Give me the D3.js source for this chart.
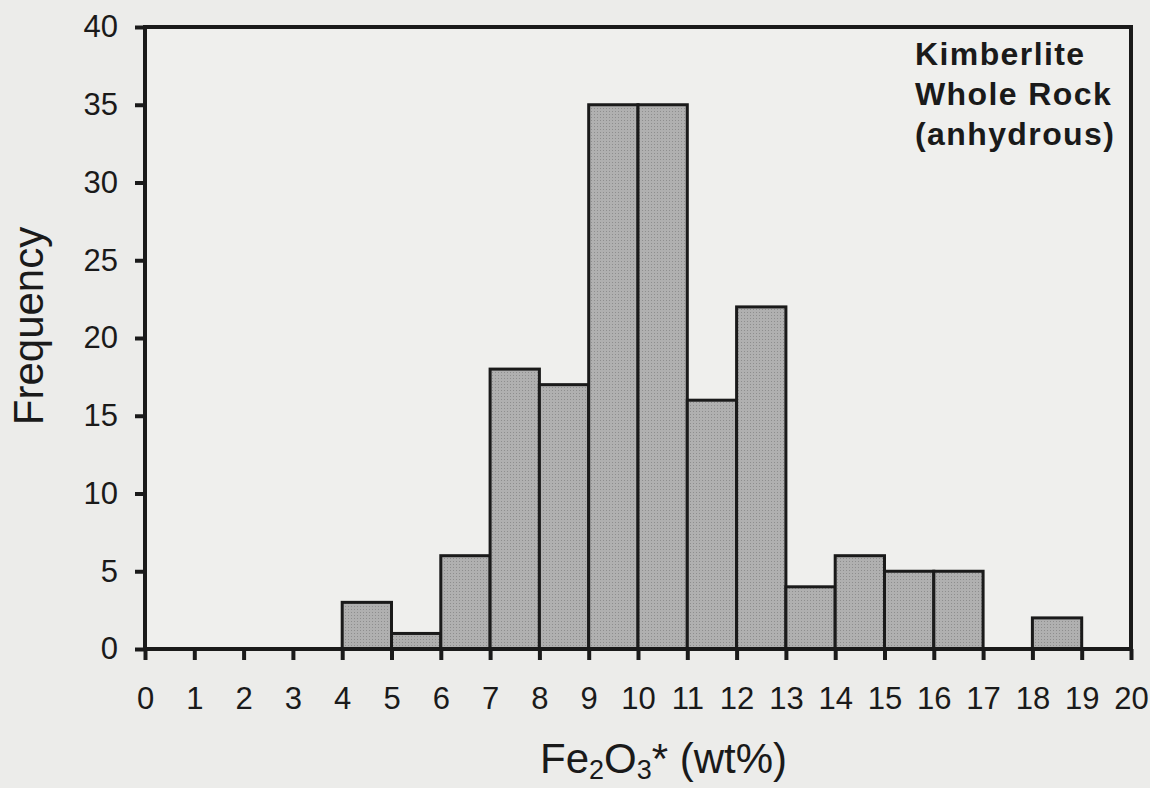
<!DOCTYPE html>
<html><head><meta charset="utf-8">
<script src="https://cdn.jsdelivr.net/npm/d3@7"></script>
<style>
html,body{margin:0;padding:0;background:#ececea;}
svg{display:block;}
text{font-family:"Liberation Sans",Arial,Helvetica,sans-serif;fill:#1a1a1a;}
</style></head><body>
<svg id="c" width="1150" height="788"></svg>
<script>
const binStarts = [4,5,6,7,8,9,10,11,12,13,14,15,16,17,18];
const binWidth = 1;
const frequencies = [3,1,6,18,17,35,35,16,22,4,6,5,5,0,2];
const xTicks = d3.range(0,21,1);
const yTicks = [0,5,10,15,20,25,30,35,40];
const annotation = ["Kimberlite","Whole Rock","(anhydrous)"];

const svg = d3.select("#c");
const L=145, R=1131, T=27, B=649;
const x = d3.scaleLinear().domain([0,20]).range([L,R]);
const y = d3.scaleLinear().domain([0,40]).range([B,T]);

svg.append("rect").attr("width",1150).attr("height",788).attr("fill","#ececea");
svg.append("rect").attr("x",L).attr("y",T).attr("width",R-L).attr("height",B-T).attr("fill","#efefed");

const defs = svg.append("defs");
const pat = defs.append("pattern").attr("id","dots").attr("width",3).attr("height",3).attr("patternUnits","userSpaceOnUse");
pat.append("rect").attr("width",3).attr("height",3).attr("fill","#b0b0b0");
pat.append("rect").attr("width",1).attr("height",1).attr("fill","#8e8e8e");

const data = binStarts.map((s,i)=>({x0:s,x1:s+binWidth,v:frequencies[i]})).filter(d=>d.v>0);
svg.append("g").selectAll("rect").data(data).join("rect")
  .attr("x",d=>x(d.x0)).attr("y",d=>y(d.v))
  .attr("width",d=>x(d.x1)-x(d.x0)).attr("height",d=>y(0)-y(d.v))
  .attr("fill","url(#dots)").attr("stroke","#1a1a1a").attr("stroke-width",3);

const xAxis = d3.axisBottom(x).tickValues(xTicks).tickSize(11).tickPadding(27).tickFormat(d3.format("d"));
const gx = svg.append("g").attr("transform",`translate(0,${B})`).call(xAxis);
gx.select(".domain").remove();
gx.selectAll(".tick line").attr("stroke","#1a1a1a").attr("stroke-width",4);
gx.selectAll(".tick text").attr("font-size",31).attr("fill","#1a1a1a");

const yAxis = d3.axisLeft(y).tickValues(yTicks).tickSize(10).tickPadding(17);
const gy = svg.append("g").attr("transform",`translate(${L},0)`).call(yAxis);
gy.select(".domain").remove();
gy.selectAll(".tick line").attr("stroke","#1a1a1a").attr("stroke-width",4);
gy.selectAll(".tick text").attr("font-size",31).attr("fill","#1a1a1a");

svg.append("path").attr("d",`M${L},${B}H${R}V${T}H${L}Z`).attr("fill","none").attr("stroke","#1a1a1a").attr("stroke-width",4);

const xt = svg.append("text").attr("x",540).attr("y",773).attr("text-anchor","start").attr("font-size",42);
xt.append("tspan").text("Fe");
xt.append("tspan").text("2").attr("font-size",27).attr("dy",6);
xt.append("tspan").text("O").attr("dy",-6);
xt.append("tspan").text("3").attr("font-size",27).attr("dy",6);
xt.append("tspan").text("* (wt%)").attr("dy",-6);

svg.append("text").attr("transform",`translate(43,326) rotate(-90)`)
  .attr("text-anchor","middle").attr("font-size",42).text("Frequency");

svg.append("g").selectAll("text").data(annotation).join("text")
  .attr("x",915).attr("y",(d,i)=>65+i*40).attr("font-size",32).attr("letter-spacing",1.4)
  .attr("font-weight","bold").text(d=>d);
</script>
</body></html>
